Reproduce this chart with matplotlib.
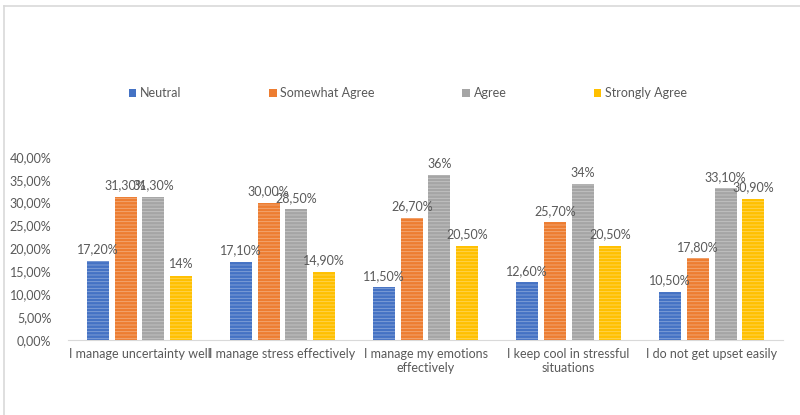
import numpy as np
import matplotlib
matplotlib.use('Agg')
import matplotlib.pyplot as plt
from matplotlib.lines import Line2D

# Data (percent)
categories = ['I manage uncertainty well', 'I manage stress effectively',
              'I manage my emotions\neffectively', 'I keep cool in stressful\nsituations',
              'I do not get upset easily']
series_names = ['Neutral', 'Somewhat Agree', 'Agree', 'Strongly Agree']
neutral = [17.2, 17.1, 11.5, 12.6, 10.5]
somewhat_agree = [31.3, 30.0, 26.7, 25.7, 17.8]
agree = [31.3, 28.5, 36.0, 34.0, 33.1]
strongly_agree = [14.0, 14.9, 20.5, 20.5, 30.9]
neutral_labels = ['17,20%', '17,10%', '11,50%', '12,60%', '10,50%']
somewhat_labels = ['31,30%', '30,00%', '26,70%', '25,70%', '17,80%']
agree_labels = ['31,30%', '28,50%', '36%', '34%', '33,10%']
strongly_labels = ['14%', '14,90%', '20,50%', '20,50%', '30,90%']
y_ticks = [0, 5, 10, 15, 20, 25, 30, 35, 40]
y_tick_labels = ['0,00%', '5,00%', '10,00%', '15,00%', '20,00%',
                 '25,00%', '30,00%', '35,00%', '40,00%']

colors = ['#4472C4', '#ED7D31', '#A5A5A5', '#FFC000']
text_color = '#595959'

plt.rcParams['font.family'] = ['Lato', 'DejaVu Sans']
plt.rcParams['hatch.color'] = (1, 1, 1, 0.35)
plt.rcParams['hatch.linewidth'] = 0.6

fig = plt.figure(figsize=(8, 4.15), dpi=100)
ax = fig.add_axes([0.085, 0.181, 0.894, 0.441])

# light frame around the chart (top and left only visible in the reference)
fig.add_artist(Line2D([0.005, 1.0], [0.986, 0.986], transform=fig.transFigure,
                      color='#D9D9D9', lw=1.2))
fig.add_artist(Line2D([0.005, 0.005], [0.0, 0.986], transform=fig.transFigure,
                      color='#D9D9D9', lw=1.2))

x = np.arange(len(categories))
width = 0.154
step = 0.194
all_values = [neutral, somewhat_agree, agree, strongly_agree]
all_labels = [neutral_labels, somewhat_labels, agree_labels, strongly_labels]

for i, (vals, labs) in enumerate(zip(all_values, all_labels)):
    pos = x + (i - 1.5) * step
    bars = ax.bar(pos, vals, width, color=colors[i], label=series_names[i],
                  hatch='-----', linewidth=0)
    for b, lab in zip(bars, labs):
        ax.annotate(lab, (b.get_x() + b.get_width() / 2, b.get_height()),
                    xytext=(0, 4), textcoords='offset points',
                    ha='center', va='bottom', fontsize=9, color=text_color)

ax.set_xlim(-0.5, len(categories) - 0.5)
ax.set_ylim(0, 40)
ax.set_yticks(y_ticks)
ax.set_yticklabels(y_tick_labels)
ax.set_xticks(x)
ax.set_xticklabels(categories)
ax.tick_params(axis='both', length=0, colors=text_color, labelsize=9)
ax.tick_params(axis='x', pad=6)
ax.tick_params(axis='y', pad=12)
for s in ['top', 'right', 'left']:
    ax.spines[s].set_visible(False)
ax.spines['bottom'].set_color('#D9D9D9')

leg = fig.legend(loc='center', bbox_to_anchor=(0.51, 0.776), ncol=4, frameon=False,
                 fontsize=9, handlelength=0.6, handleheight=0.6, handletextpad=0.3,
                 columnspacing=7.0)
for t in leg.get_texts():
    t.set_color(text_color)
for h in leg.legend_handles:
    h.set_hatch(None)

fig.savefig('out.png', dpi=100, facecolor='white')
